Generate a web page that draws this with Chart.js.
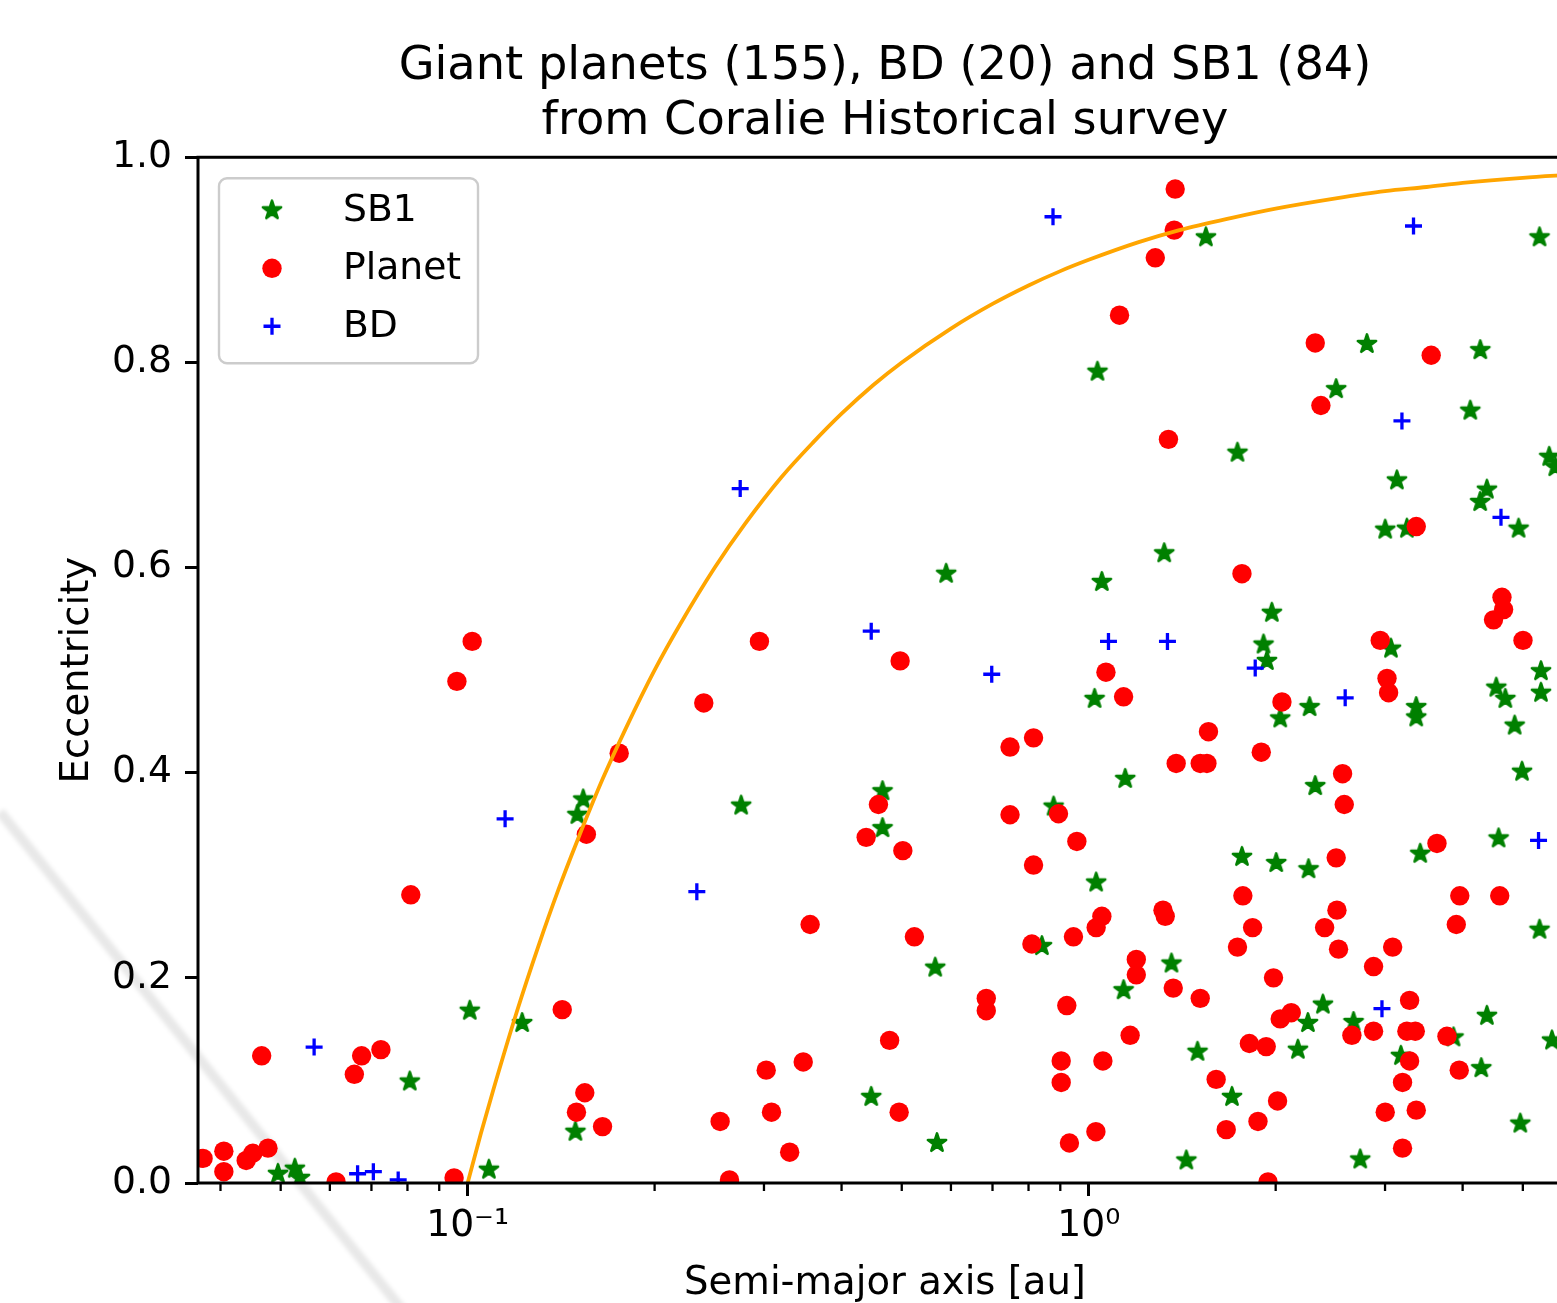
<!DOCTYPE html>
<html>
<head>
<meta charset="utf-8">
<title>Giant planets, BD and SB1 from Coralie Historical survey</title>
<script src="https://cdn.jsdelivr.net/npm/chart.js@4.4.1/dist/chart.umd.min.js"></script>
<style>
  html, body { margin: 0; padding: 0; background: #fff; overflow: hidden; }
  #wrap { position: absolute; left: 0; top: 0; width: 1600px; height: 1303px; }
</style>
</head>
<body>
<div id="wrap"><canvas id="chart" width="1600" height="1303"></canvas></div>
<script>
// ---- Semi-major axis [au] and eccentricity of each object ----
const planetA = [
  0.1017, 0.0961, 0.1553, 0.081, 0.142, 0.0466, 0.0675, 0.0725, 0.0657, 0.1544, 0.1497, 0.0375, 0.0405, 0.0405, 0.044, 0.0451, 0.0477, 0.0614, 0.0951,
  0.295, 0.497, 0.24, 0.1754, 0.4586, 0.4382, 0.502, 0.356, 0.524, 0.684, 0.684, 0.478, 0.3025, 0.347, 0.1649, 0.255, 0.3085, 0.4952, 0.33, 0.264,
  1.378, 1.373, 1.28, 1.121, 1.344, 2.316, 2.365, 3.56,
  1.066, 1.138, 0.747, 0.815, 1.383, 1.512, 1.55, 0.747, 0.894, 0.957,
  1.765, 2.047, 1.559, 1.896, 2.563, 2.579, 2.503,
  3.368, 4.628, 4.656, 4.485, 5.003, 2.947, 3.022, 3.04, 3.637,
  0.815, 1.317, 1.328, 1.05, 1.028, 0.81, 0.945, 1.193, 1.193, 1.368, 0.922, 1.166, 0.903, 0.903, 1.054, 1.027, 0.931,
  1.771, 1.836, 1.736, 2.51, 2.398, 2.525, 2.875, 3.086, 1.984, 1.512, 2.034, 2.119, 2.653, 2.875, 1.814, 1.931, 1.604, 2.014, 1.873, 1.665, 1.944,
  3.958, 4.59, 3.907, 3.286, 3.253, 3.356, 3.774, 3.286, 3.95, 3.201, 3.002, 3.368, 3.201
];
const planetE = [
  0.528, 0.489, 0.340, 0.281, 0.169, 0.124, 0.124, 0.130, 0.106, 0.088, 0.069, 0.024, 0.031, 0.011, 0.022, 0.029, 0.034, 0.001, 0.005,
  0.528, 0.509, 0.468, 0.419, 0.369, 0.337, 0.324, 0.252, 0.240, 0.180, 0.168, 0.139, 0.110, 0.118, 0.055, 0.060, 0.069, 0.069, 0.030, 0.003,
  0.969, 0.929, 0.902, 0.846, 0.725, 0.819, 0.758, 0.807,
  0.498, 0.474, 0.425, 0.434, 0.409, 0.409, 0.409, 0.359, 0.360, 0.333,
  0.594, 0.469, 0.440, 0.420, 0.399, 0.369, 0.317,
  0.640, 0.571, 0.559, 0.549, 0.529, 0.529, 0.492, 0.478, 0.331,
  0.310, 0.266, 0.260, 0.260, 0.249, 0.233, 0.240, 0.218, 0.203, 0.190, 0.173, 0.144, 0.119, 0.098, 0.119, 0.050, 0.039,
  0.280, 0.249, 0.230, 0.266, 0.249, 0.228, 0.211, 0.230, 0.200, 0.180, 0.160, 0.166, 0.144, 0.148, 0.136, 0.133, 0.101, 0.080, 0.060, 0.052, 0.001,
  0.280, 0.280, 0.252, 0.178, 0.148, 0.148, 0.143, 0.119, 0.110, 0.098, 0.069, 0.071, 0.034
];

const bdA = [0.876, 3.334, 0.2747, 3.194, 4.611, 0.4465, 1.076, 1.339, 0.698, 1.854, 2.588, 0.1149, 0.2339, 5.30, 0.0566, 2.966, 0.0665, 0.0705, 0.0773];
const bdE = [0.942, 0.933, 0.677, 0.743, 0.649, 0.538, 0.528, 0.528, 0.496, 0.502, 0.473, 0.355, 0.284, 0.334, 0.1325, 0.170, 0.009, 0.011, 0.003];

const sb1A = [
  0.1535, 0.1502, 0.1008, 0.1224, 0.0807, 0.1491, 0.0495, 0.0527, 0.0537, 0.1082,
  0.2757, 0.4656, 0.4656, 0.566, 0.4465, 0.5697, 0.5895,
  1.033, 1.544, 2.805, 2.503, 1.736, 5.32, 4.27, 4.115, 5.514, 5.64, 3.135, 4.377, 4.268,
  1.323, 1.05, 1.022, 1.145, 0.878,
  1.972, 1.912, 1.936, 2.034, 2.268, 2.316,
  4.922, 3.002, 3.253, 3.067, 5.348, 4.531, 4.686, 5.348, 3.368, 3.368, 4.851, 4.985, 4.57, 3.418, 1.765,
  1.028, 0.8407, 1.359, 1.138,
  2.004, 2.259, 2.254, 2.383, 2.669, 2.172, 1.497, 1.701, 1.436, 2.736,
  5.32, 4.377, 5.57, 3.867, 3.182, 4.286, 4.953
];
const sb1E = [
  0.374, 0.359, 0.168, 0.156, 0.099, 0.050, 0.009, 0.014, 0.005, 0.013,
  0.368, 0.382, 0.346, 0.210, 0.084, 0.039, 0.594,
  0.791, 0.922, 0.818, 0.774, 0.712, 0.922, 0.812, 0.753, 0.708, 0.698, 0.685, 0.676, 0.664,
  0.614, 0.586, 0.472, 0.394, 0.367,
  0.556, 0.525, 0.509, 0.453, 0.464, 0.387,
  0.638, 0.637, 0.638, 0.521, 0.499, 0.483, 0.472, 0.478, 0.464, 0.454, 0.446, 0.401, 0.336, 0.321, 0.318,
  0.293, 0.231, 0.214, 0.188,
  0.312, 0.306, 0.156, 0.174, 0.157, 0.130, 0.128, 0.084, 0.022, 0.023,
  0.247, 0.163, 0.139, 0.142, 0.124, 0.112, 0.058
];

// Boundary curve (periastron at 0.1 au), sampled points
const curveA = [0.1, 0.105, 0.11, 0.12, 0.13, 0.14, 0.15, 0.165, 0.18, 0.2, 0.22, 0.25, 0.28, 0.32, 0.36, 0.4, 0.45, 0.5, 0.6, 0.7, 0.8, 0.9, 1.0, 1.2, 1.4, 1.7, 2.0, 2.5, 3.0, 3.5, 4.0, 5.0, 6.0];
const curveE = [0, 0.048, 0.091, 0.167, 0.231, 0.286, 0.333, 0.394, 0.444, 0.5, 0.545, 0.6, 0.643, 0.688, 0.722, 0.75, 0.778, 0.8, 0.833, 0.857, 0.875, 0.889, 0.9, 0.917, 0.929, 0.941, 0.95, 0.96, 0.967, 0.971, 0.975, 0.98, 0.983];

// ---- Axis ticks ----
const xMin = 0.0368, xMax = 6.0;
const xTickValues = [0.04, 0.05, 0.06, 0.07, 0.08, 0.09, 0.1, 0.2, 0.3, 0.4, 0.5, 0.6, 0.7, 0.8, 0.9, 1, 2, 3, 4, 5, 6];
const xMajorTicks = [0.1, 1];
const xMajorLabels = ['10\u207B\u00B9', '10\u2070'];
const yTicks = [0, 0.2, 0.4, 0.6, 0.8, 1.0];
const yTickLabels = ['0.0', '0.2', '0.4', '0.6', '0.8', '1.0'];

const legendLabels = ['SB1', 'Planet', 'BD'];

// ---- Styling ----
const FONT = '"DejaVu Sans", "Liberation Sans", sans-serif';
const BASE = 37.7;
const LABEL = 38.6;
const TITLE = 46.3;
Chart.defaults.font.family = FONT;
Chart.defaults.color = '#000';

const toPoints = (xs, ys) => xs.map((v, i) => ({ x: v, y: ys[i] }));

// Filled five-pointed star marker
function makeStar(R, color) {
  const s = 28;
  const c = document.createElement('canvas');
  c.width = s; c.height = s;
  const g = c.getContext('2d');
  const cx = s / 2, cy = s / 2, r = R * 0.381966;
  g.beginPath();
  for (let i = 0; i < 10; i++) {
    const ang = -Math.PI / 2 + i * Math.PI / 5;
    const rad = i % 2 ? r : R;
    g.lineTo(cx + rad * Math.cos(ang), cy + rad * Math.sin(ang));
  }
  g.closePath();
  g.fillStyle = color;
  g.fill();
  g.lineJoin = 'round';
  g.lineWidth = 2.6;
  g.strokeStyle = color;
  g.stroke();
  return c;
}
const starMarker = makeStar(9.6, '#008000');

// Faint diagonal streak across the lower-left corner
const streak = {
  id: 'streak',
  beforeDraw(chart) {
    const ctx = chart.ctx;
    ctx.save();
    ctx.filter = 'blur(2px)';
    ctx.strokeStyle = 'rgba(0,0,0,0.09)';
    ctx.lineWidth = 10;
    ctx.beginPath();
    ctx.moveTo(0, 812);
    ctx.lineTo(404, 1312);
    ctx.stroke();
    ctx.restore();
  }
};

// Minor x ticks and the four axes spines
const frame = {
  id: 'frame',
  afterDatasetsDraw(chart) {
    const { ctx, chartArea: a, scales: { x } } = chart;
    ctx.save();
    ctx.strokeStyle = '#000';
    ctx.lineWidth = 2.3;
    xTickValues.forEach(v => {
      if (xMajorTicks.includes(v)) return;
      const px = x.getPixelForValue(v);
      if (px < a.left || px > a.right) return;
      ctx.beginPath();
      ctx.moveTo(px, a.bottom);
      ctx.lineTo(px, a.bottom + 8);
      ctx.stroke();
    });
    ctx.lineWidth = 3;
    ctx.strokeRect(a.left, a.top, a.right - a.left, a.bottom - a.top);
    ctx.restore();
  }
};

// Boxed legend inside the upper-left corner of the plot
const boxLegend = {
  id: 'boxLegend',
  afterDraw(chart) {
    const { ctx, chartArea: a } = chart;
    const bx = a.left + 21, by = a.top + 21, bw = 259, bh = 185;
    ctx.save();
    ctx.beginPath();
    ctx.roundRect(bx, by, bw, bh, 8);
    ctx.fillStyle = 'rgba(255,255,255,0.8)';
    ctx.fill();
    ctx.lineWidth = 2.4;
    ctx.strokeStyle = '#cccccc';
    ctx.stroke();

    const rows = [
      chart.data.datasets.find(d => d.label === 'SB1'),
      chart.data.datasets.find(d => d.label === 'Planet'),
      chart.data.datasets.find(d => d.label === 'BD')
    ];
    rows.forEach((ds, i) => {
      const cy = by + 32 + i * 58;
      const mx = bx + 53;
      ctx.fillStyle = ds.backgroundColor;
      ctx.strokeStyle = ds.borderColor;
      ctx.lineWidth = ds.borderWidth;
      Chart.helpers.drawPoint(ctx, {
        pointStyle: ds.pointStyle,
        radius: ds.pointRadius,
        borderWidth: ds.borderWidth,
        rotation: 0
      }, mx, cy);
      ctx.fillStyle = '#000';
      ctx.font = BASE + 'px ' + FONT;
      ctx.textBaseline = 'middle';
      ctx.textAlign = 'left';
      ctx.fillText(legendLabels[i], bx + 124, cy + 1);
    });
    ctx.restore();
  }
};

new Chart(document.getElementById('chart'), {
  type: 'scatter',
  data: {
    datasets: [
      {
        label: 'curve',
        data: toPoints(curveA, curveE),
        showLine: true,
        borderColor: '#ffa500',
        borderWidth: 3.8,
        pointRadius: 0,
        cubicInterpolationMode: 'monotone',
        clip: 0,
        order: 0
      },
      {
        label: 'BD',
        data: toPoints(bdA, bdE),
        pointStyle: 'cross',
        pointRadius: 8.5,
        borderColor: '#0000ff',
        backgroundColor: '#0000ff',
        borderWidth: 3.3,
        clip: 0,
        order: 1
      },
      {
        label: 'Planet',
        data: toPoints(planetA, planetE),
        pointStyle: 'circle',
        pointRadius: 9.7,
        backgroundColor: '#ff0000',
        borderColor: '#ff0000',
        borderWidth: 0,
        clip: 0,
        order: 2
      },
      {
        label: 'SB1',
        data: toPoints(sb1A, sb1E),
        pointStyle: starMarker,
        pointRadius: 11,
        backgroundColor: '#008000',
        borderColor: '#008000',
        borderWidth: 0,
        clip: 0,
        order: 3
      }
    ]
  },
  options: {
    responsive: false,
    devicePixelRatio: 1,
    animation: false,
    events: [],
    layout: { padding: { left: 0, right: 28, top: 0, bottom: 0 } },
    plugins: {
      legend: { display: false },
      tooltip: { enabled: false },
      title: {
        display: true,
        fullSize: false,
        text: ['Giant planets (155), BD (20) and SB1 (84)', 'from Coralie Historical survey'],
        font: { size: TITLE, weight: 'normal', family: FONT, lineHeight: 1.18 },
        color: '#000',
        padding: { top: 40, bottom: 8 }
      }
    },
    scales: {
      x: {
        type: 'logarithmic',
        min: xMin,
        max: xMax,
        bounds: 'data',
        afterBuildTicks: s => { s.ticks = xTickValues.map(v => ({ value: v })); },
        afterFit: s => { s.height = 120; },
        ticks: {
          autoSkip: false,
          maxRotation: 0,
          minRotation: 0,
          padding: 8,
          font: { size: BASE },
          color: '#000',
          callback: v => {
            const i = xMajorTicks.indexOf(v);
            return i >= 0 ? xMajorLabels[i] : '';
          }
        },
        grid: {
          drawOnChartArea: false,
          drawTicks: true,
          tickLength: 13,
          tickWidth: 3,
          tickColor: c => (c.tick && xMajorTicks.includes(c.tick.value)) ? '#000' : 'rgba(0,0,0,0)'
        },
        border: { display: false },
        title: {
          display: true,
          text: 'Semi-major axis [au]',
          font: { size: LABEL },
          color: '#000',
          padding: { top: 0, bottom: -4 }
        }
      },
      y: {
        type: 'linear',
        min: 0,
        max: 1,
        bounds: 'data',
        afterBuildTicks: s => { s.ticks = yTicks.map(v => ({ value: v })); },
        afterFit: s => { s.width = 198; },
        ticks: {
          padding: 13,
          font: { size: BASE },
          color: '#000',
          callback: v => yTickLabels[yTicks.indexOf(v)]
        },
        grid: {
          drawOnChartArea: false,
          drawTicks: true,
          tickLength: 13,
          tickWidth: 3,
          tickColor: '#000'
        },
        border: { display: false },
        title: {
          display: true,
          text: 'Eccentricity',
          font: { size: LABEL },
          color: '#000',
          padding: { top: 55, bottom: 0 }
        }
      }
    }
  },
  plugins: [streak, frame, boxLegend]
});
</script>
</body>
</html>
